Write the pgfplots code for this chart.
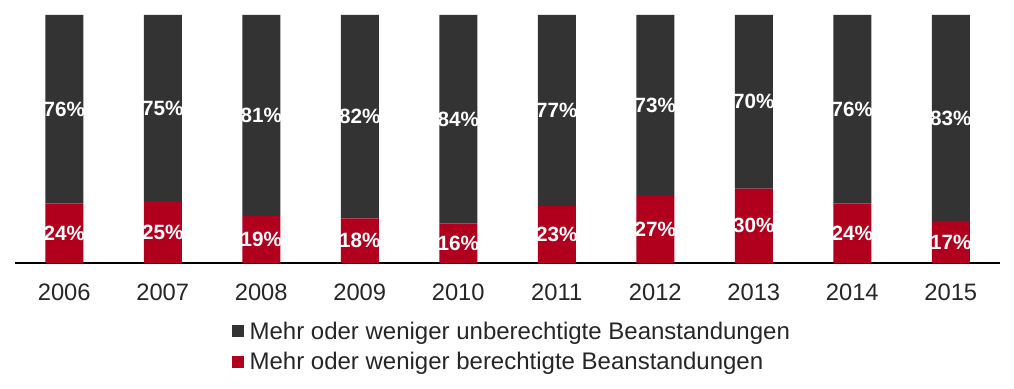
\documentclass[border=0pt]{standalone}
\usepackage{fontspec}
\setmainfont{Liberation Sans}
\usepackage{pgfplots}
\pgfplotsset{compat=1.18}
\definecolor{dgray}{HTML}{333333}
\definecolor{dred}{HTML}{B0001E}
\definecolor{txt}{HTML}{262626}
\begin{document}
\begin{tikzpicture}
\begin{axis}[
  at={(0,0)}, anchor=south west,
  scale only axis, width=738.75pt, height=186pt,
  ybar stacked, bar width=28.5pt,
  xmin=-0.5, xmax=9.5, ymin=0, ymax=100,
  axis x line*=bottom, axis y line=none,
  x axis line style={-, black, line width=1.1pt},
  xtick={0,...,9},
  xticklabels={2006,2007,2008,2009,2010,2011,2012,2013,2014,2015},
  major tick length=0pt,
  xticklabel style={font=\fontsize{17.8}{20}\selectfont, text=txt, yshift=-12pt},
  point meta=explicit symbolic,
  nodes near coords={\pgfplotspointmeta\%},
  every node near coord/.append style={font=\bfseries\fontsize{15.5}{18}\selectfont, text=white, anchor=center},
  reverse legend,
  legend cell align=left,
  legend image code/.code={\fill[#1] (0pt,-4.5pt) rectangle (9pt,4.5pt); \path (11pt,0pt);},
  legend style={at={(0.2203,-0.225)}, anchor=north west, draw=none, fill=none,
    font=\fontsize{18}{21}\selectfont, text=txt, inner sep=0pt, row sep=4.5pt},
]
\addplot[fill=dred, draw=none] table[x=x, y=y, meta=y] {
x y
0 24
1 25
2 19
3 18
4 16
5 23
6 27
7 30
8 24
9 17
};
\addlegendentry{Mehr oder weniger berechtigte Beanstandungen}
\addplot[fill=dgray, draw=none] table[x=x, y=y, meta=y] {
x y
0 76
1 75
2 81
3 82
4 84
5 77
6 73
7 70
8 76
9 83
};
\addlegendentry{Mehr oder weniger unberechtigte Beanstandungen}
\end{axis}
\pgfresetboundingbox
\path (-11.25pt,-94.5pt) rectangle (749.25pt,197.25pt);
\end{tikzpicture}
\end{document}
